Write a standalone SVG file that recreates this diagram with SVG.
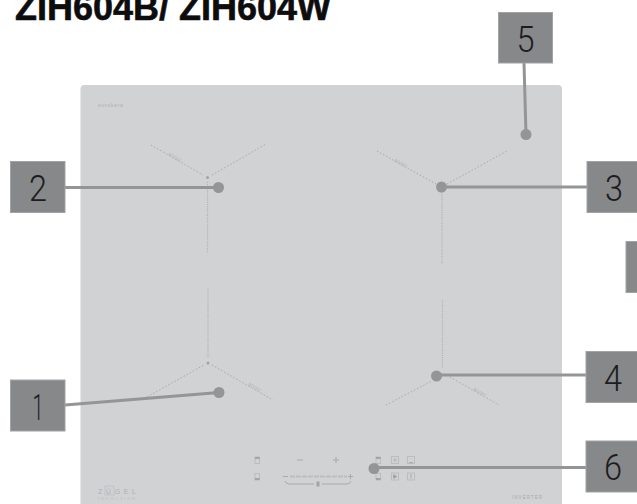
<svg xmlns="http://www.w3.org/2000/svg" width="637" height="504" viewBox="0 0 637 504">
<style>
.box{fill:#87888a;stroke:#a2a3a5;stroke-width:1}
.num{font-family:"Roboto","Liberation Sans",sans-serif;font-weight:300;font-size:37px;fill:#1c1c1e;text-anchor:middle}
.lead{fill:none;stroke:#949597;stroke-width:3}
.dot{fill:#949597}
.dots{fill:none;stroke:#a8a9ab;stroke-width:1;stroke-dasharray:1.5 2}
.vdots{fill:none;stroke:#aeafb1;stroke-width:1.2;stroke-dasharray:1 1.2}
.tiny{font-family:"Liberation Sans",sans-serif;fill:#b0b1b3}
.ico{fill:none;stroke:#bbbcbe;stroke-width:1}
.mark{fill:#a3a4a6}
.ctl{fill:none;stroke:#a8a9ab;stroke-width:1}
</style>
<rect width="637" height="504" fill="#fff"/>
<text x="15" y="20" font-family="'Liberation Sans',sans-serif" font-weight="700" font-size="37" fill="#0d0d0d" stroke="#0d0d0d" stroke-width="0.6" textLength="316" lengthAdjust="spacingAndGlyphs">ZIH604B/ ZIH604W</text>
<g id="panel">
<path d="M80.5 504V89a4 4 0 0 1 4-4H558a4 4 0 0 1 4 4V504Z" fill="#d1d2d4"/>
<text class="tiny" x="98" y="107" font-size="5.2" fill="#8f9092" textLength="25">eurokera</text>
<g id="zone-back-left">
<path class="dots" d="M151 145L203 175M212 175L266 144"/><path class="vdots" d="M207.500 182V253"/><circle class="mark" cx="207.500" cy="177.500" r="1.500"/>
<text class="tiny" font-size="4" transform="translate(168 155) rotate(30)">BOOST</text>
</g>
<g id="zone-back-right">
<path class="dots" d="M377 151L436 184M447 184L507 151"/><path class="vdots" d="M442 190V264"/>
<text class="tiny" font-size="4" transform="translate(394 161) rotate(30)">BOOST</text>
</g>
<g id="zone-front-left">
<path class="dots" d="M147 397L204 365M212 365L273 400"/><path class="vdots" d="M208 289V358"/><circle class="mark" cx="208" cy="363" r="1.500"/>
<text class="tiny" font-size="4" transform="translate(248 385) rotate(30)">BOOST</text>
</g>
<g id="zone-front-right">
<path class="dots" d="M386 405L432 381M450 377L499 405"/><path class="vdots" d="M442.500 300V368"/>
<text class="tiny" font-size="4" transform="translate(473 390) rotate(30)">BOOST</text>
</g>
<g id="controls">
<rect class="ico" x="255" y="457" width="4.500" height="6.500"/><rect class="mark" x="255" y="457" width="4.500" height="2"/>
<rect class="ico" x="255" y="473.500" width="4.500" height="6.500"/><rect class="mark" x="255" y="478" width="4.500" height="2"/>
<path class="ctl" d="M297 460H303M333 460H339M336 457V463"/>
<path class="ctl" d="M283 476.500H288"/>
<path d="M290 476.500H347" fill="none" stroke="#bcbdbf" stroke-width="2" stroke-dasharray="5 1"/>
<path class="ctl" d="M348 476.500H353M350.500 474V479"/>
<path class="ctl" d="M285 481Q286 484 289 484H314M322 484H347Q350 484 351 481"/>
<rect class="mark" x="316.500" y="481.500" width="3" height="5"/>
<rect class="ico" x="376" y="457" width="4.500" height="6.500"/><rect class="mark" x="376" y="457" width="4.500" height="2"/>
<rect class="ico" x="376" y="473.500" width="4.500" height="6.500"/><rect class="mark" x="376" y="478" width="4.500" height="2"/>
<rect class="ico" x="391.500" y="456.500" width="7" height="7"/><rect x="393.500" y="458.500" width="3" height="3" fill="#bbbcbe"/>
<rect class="ico" x="407.500" y="456.500" width="7" height="7"/><path class="ctl" d="M409 462.500H413"/>
<rect class="ico" x="391.500" y="473" width="7" height="7"/><path d="M393 474.500H395V478.500H393ZM395 475L397.500 476.500L395 478Z" fill="#a3a4a6"/>
<rect class="ico" x="407.500" y="473" width="7" height="7"/><path class="ctl" d="M411 474V478.500"/>
</g>
<g id="branding">
<text x="98" y="494" font-family="'Liberation Sans',sans-serif" font-size="7" fill="#aeafb1" textLength="38">Z Ü G E L</text>
<rect x="105" y="486" width="9" height="9" fill="none" stroke="#b8b9bb" stroke-width="0.600"/>
<text x="98" y="500" font-family="'Liberation Sans',sans-serif" font-size="4" fill="#bbbcbe" textLength="37">INDUCTION</text>
<text x="512" y="499" font-family="'Liberation Sans',sans-serif" font-size="4.500" fill="#a8a9ab" textLength="30">INVERTER</text>
</g>
</g>
<g id="connectors">
<path class="lead" d="M65 187.500H218.500"/>
<path class="lead" d="M524 63L526 134.500"/>
<path class="lead" d="M587 187H441.500"/>
<path class="lead" d="M65 405L219 392.500"/>
<path class="lead" d="M586 375H436.500"/>
<path class="lead" d="M586 467.500H374"/>
</g>
<g id="node-1"><rect class="box" x="10.500" y="380" width="54.500" height="51"/><text class="num" x="38" y="420" textLength="11" lengthAdjust="spacingAndGlyphs">1</text><circle class="dot" cx="219" cy="392.500" r="5.500"/></g>
<g id="node-2"><rect class="box" x="10.500" y="161.500" width="54.500" height="51"/><text class="num" x="38" y="201" textLength="18" lengthAdjust="spacingAndGlyphs">2</text><circle class="dot" cx="218.500" cy="187.500" r="5.500"/></g>
<g id="node-3"><rect class="box" x="587" y="161.500" width="54" height="51"/><text class="num" x="614" y="201" textLength="18" lengthAdjust="spacingAndGlyphs">3</text><circle class="dot" cx="441.500" cy="187" r="5.500"/></g>
<g id="node-4"><rect class="box" x="586" y="351.500" width="55" height="51"/><text class="num" x="613" y="391" textLength="18" lengthAdjust="spacingAndGlyphs">4</text><circle class="dot" cx="436.500" cy="376" r="5.500"/></g>
<g id="node-5"><rect class="box" x="498.500" y="12.500" width="54" height="50.500"/><text class="num" x="525.500" y="52" textLength="18" lengthAdjust="spacingAndGlyphs">5</text><circle class="dot" cx="526" cy="134.500" r="5.500"/></g>
<g id="node-6"><rect class="box" x="586" y="441" width="55" height="51"/><text class="num" x="613" y="480" textLength="18" lengthAdjust="spacingAndGlyphs">6</text><circle class="dot" cx="374" cy="468.500" r="5.500"/></g>
<g id="node-clipped"><rect class="box" x="626" y="241.500" width="15" height="51"/></g>
</svg>
